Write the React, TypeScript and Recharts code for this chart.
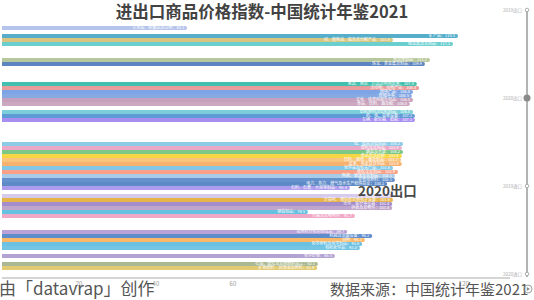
import { Bar, BarChart, Cell, LabelList, XAxis, YAxis } from 'recharts';

// Racing-bar snapshot: each bar sits in a fixed slot (64 slots of 4px),
// empty slots leave the white gaps seen in the frame.
const SLOT_COUNT = 64;

const slots = [
  1, 3, 4, 5, 9, 10, 15, 16, 17, 18, 19, 20, 22, 23, 24, 30, 31, 32, 33, 34, 35,
  36, 37, 38, 39, 40, 41, 43, 44, 45, 46, 47, 48, 52, 53, 54, 55, 56, 58, 60, 61,
];

const names = [
  '艺术品、收藏品及古物', '矿产品', '动、植物油、脂及其分解产品', '贱金属及其制品',
  '木及木制品', '珠宝、贵金属及制品', '家具、寝具、灯具及照明装置', '活动物；动物产品',
  '植物产品', '鞋帽伞等', '文化、体育和娱乐用品', '食品、饮料、酒及醋',
  '纺织原料及纺织制品', '机、电、音像设备', '车辆、航空器、船舶', '纸、纸板及纸制品',
  '塑料及其制品', '蔬菜及水果', '食品及活动物', '饮料、烟草、酒及制品',
  '皮革、毛皮及其制品', '化学品及有关产品', '橡胶及其制品', '陶瓷、玻璃及其制品',
  '非食用原料', '电力、热力、燃气及水生产和供应业', '石料、石膏、水泥等制品', '杂项制品',
  '计算机、通信和其他电子设备', '光学、医疗等仪器', '钟表及其零件', '钢铁制品',
  '乐器及其零附件', '按原料分类的制成品', '机械及运输设备', '谷物',
  '化学原料及化学制品', '有机化学品', '化学纤维', '石油、煤炭及其他燃料加工',
  '矿物燃料、润滑油及原料',
];

const values = [
  48.1, 118.5, 101.6, 117.2, 111.2, 109.9, 107.8, 108.4, 106.8, 106.5, 106.8, 106.0,
  106.8, 107.3, 107.3, 104.2, 103.9, 104.2, 103.9, 103.7, 103.9, 101.6, 102.9, 102.1,
  102.1, 100.1, 90.4, 101.6, 101.6, 101.4, 101.4, 79.5, 91.7, 89.7, 96.2, 94.3,
  93.6, 93.0, 86.5, 82.1, 81.9,
];

const colors = [
  '#b4c4ea', '#56aecb', '#d8c680', '#6bcfd0', '#b7c79d', '#5b84c0', '#42c0ad', '#e89c9c',
  '#7ca4e6', '#86a9e2', '#c6a0bc', '#cba7c0', '#7ccfda', '#5e9ad6', '#a88ef0', '#8ccbe6',
  '#eaa8c6', '#7dc787', '#f6d743', '#f9c47e', '#f7b16f', '#82c8e6', '#f9a088', '#a8cce8',
  '#6592cc', '#5e8bc6', '#ad9cee', '#d6cbec', '#e7b449', '#a48dca', '#bfa6cc', '#64c1e0',
  '#f0a8c6', '#b8a2d8', '#5e8dcc', '#fdb867', '#6cc0e2', '#74c4e4', '#b3a3d3', '#aab994',
  '#e2ca73',
];

const xTicks = [20, 40, 60, 120];
const timeline = ['2019出口', '2020出口', '2019进口', '2020进口'];
const current = '2020出口';

const rows = Array.from({ length: SLOT_COUNT }, (_, i) => {
  const k = slots.indexOf(i);
  if (k < 0) return { slot: String(i), value: null, label: '', color: 'none' };
  return {
    slot: String(i),
    value: values[k],
    label: `${names[k]}：${values[k].toFixed(1)}`,
    color: colors[k],
  };
});

const FONT = '"Noto Sans CJK SC", "Noto Sans", sans-serif';

export default function App() {
  return (
    <div
      style={{
        position: 'absolute',
        left: 0,
        top: 0,
        width: 534,
        height: 300,
        background: '#fff',
        overflow: 'hidden',
        fontFamily: FONT,
      }}
    >
      <BarChart
        width={534}
        height={300}
        data={rows}
        layout="vertical"
        barCategoryGap={0}
        margin={{ top: 22, right: 24, bottom: 0, left: 2 }}
        style={{ fontFamily: FONT }}
      >
        <XAxis
          type="number"
          domain={[0, 132]}
          ticks={xTicks}
          height={22}
          tickLine={false}
          tickSize={2}
          tickMargin={2}
          axisLine={{ stroke: '#aaa' }}
          tick={{ fontSize: 6, fill: '#999' }}
        />
        <YAxis
          type="category"
          dataKey="slot"
          width={0}
          tick={false}
          tickLine={false}
          axisLine={{ stroke: '#aaa' }}
        />
        <Bar dataKey="value" isAnimationActive={false} radius={[0, 2, 2, 0]}>
          {rows.map(r => (
            <Cell key={r.slot} fill={r.color} />
          ))}
          <LabelList dataKey="label" position="insideRight" offset={3} fill="#fff" fontSize={4} />
        </Bar>
      </BarChart>

      {/* title */}
      <div
        style={{
          position: 'absolute',
          left: 0,
          top: 1,
          width: 524,
          textAlign: 'center',
          fontSize: 16.5,
          fontWeight: 'bold',
          color: '#424242',
          lineHeight: '20px',
        }}
      >
        进出口商品价格指数-中国统计年鉴2021
      </div>

      {/* current frame label */}
      <div
        style={{
          position: 'absolute',
          left: 358,
          top: 181,
          fontSize: 13.5,
          fontWeight: 'bold',
          color: '#4a4a4a',
          lineHeight: '18px',
        }}
      >
        {current}
      </div>

      {/* footer */}
      <div
        style={{
          position: 'absolute',
          left: -1,
          top: 277,
          fontSize: 17,
          color: '#555',
          lineHeight: '22px',
          whiteSpace: 'nowrap',
        }}
      >
        由「datavrap」创作
      </div>
      <div
        style={{
          position: 'absolute',
          left: 330,
          top: 278,
          fontSize: 15,
          color: '#555',
          lineHeight: '22px',
          whiteSpace: 'nowrap',
        }}
      >
        数据来源：中国统计年鉴2021
      </div>

      {/* timeline control */}
      <svg
        width={534}
        height={300}
        style={{ position: 'absolute', left: 0, top: 0, pointerEvents: 'none' }}
      >
        <line x1={527} y1={10} x2={527} y2={277} stroke="#9a9a9a" strokeWidth={1.5} />
        {timeline.map((t, i) => {
          const y = 10 + i * 88;
          const on = t === current;
          return (
            <g key={t}>
              <text x={522} y={y + 1.5} fontSize={4.5} fill="#aaa" textAnchor="end" fontFamily={FONT}>
                {t}
              </text>
              {on ? (
                <circle cx={527} cy={y} r={3.5} fill="#8a8a8a" />
              ) : (
                <circle cx={527} cy={y} r={1.8} fill="#fff" stroke="#9a9a9a" strokeWidth={0.8} />
              )}
            </g>
          );
        })}
        <circle cx={528} cy={289} r={4} fill="none" stroke="#888" strokeWidth={0.8} />
        <path d="M526.8,287 L530,289 L526.8,291 Z" fill="#888" />
      </svg>
    </div>
  );
}
